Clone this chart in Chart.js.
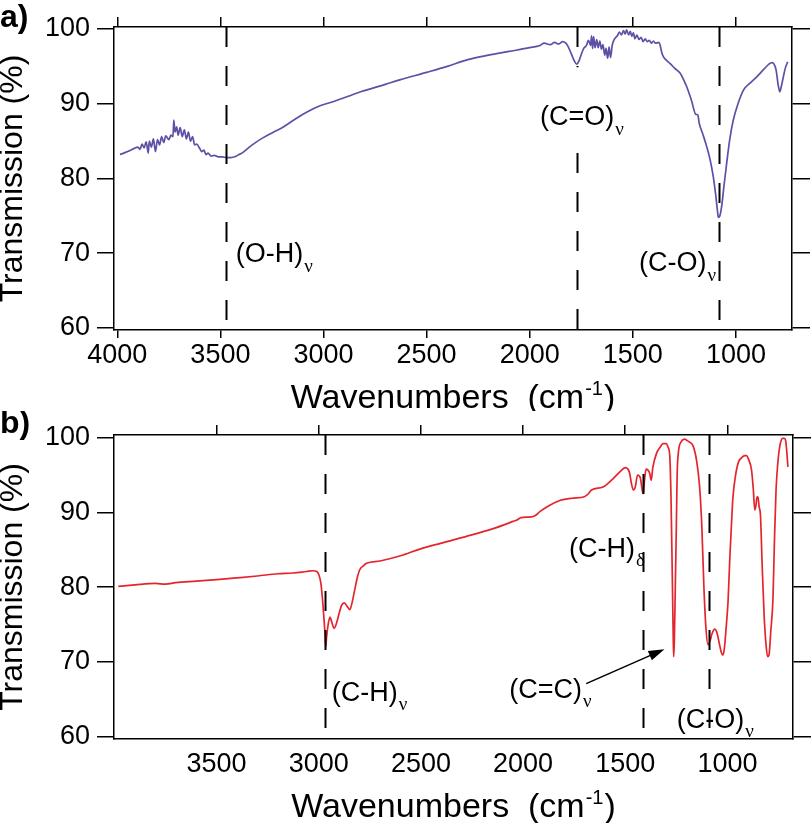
<!DOCTYPE html>
<html>
<head>
<meta charset="utf-8">
<title>FTIR spectra</title>
<script src="https://cdn.jsdelivr.net/npm/chart.js@4.4.1/dist/chart.umd.min.js"></script>
<style>
  html, body { margin: 0; padding: 0; background: #fff; }
  #wrap { position: relative; width: 812px; height: 823px; }
  .panel { position: absolute; left: 0; width: 812px; }
  #panelA { top: 0; height: 411px; }
  #panelB { top: 411px; height: 412px; }
</style>
</head>
<body>
<div id="wrap">
  <div class="panel" id="panelA"><canvas id="spectrumA" width="812" height="411"></canvas></div>
  <div class="panel" id="panelB"><canvas id="spectrumB" width="812" height="412"></canvas></div>
</div>
<script>
const FONT = '"Liberation Sans", Arial, Helvetica, sans-serif';

// panel a) (wavenumber, % transmission)
const waveA = [
  3987, 3950, 3920, 3900, 3890, 3880, 3870, 3860, 3850, 3845, 3835, 3825, 3815, 3805, 3795, 3785,
  3775, 3765, 3750, 3740, 3730, 3726, 3720, 3712, 3705, 3695, 3685, 3675, 3665, 3655, 3645, 3635,
  3625, 3615, 3600, 3590, 3580, 3570, 3560, 3545, 3530, 3510, 3490, 3470, 3450, 3430, 3410, 3390,
  3360, 3330, 3290, 3250, 3195, 3140, 3080, 3020, 2950, 2880, 2820, 2700, 2630, 2500, 2400, 2300,
  2200, 2100, 2000, 1950, 1930, 1900, 1880, 1860, 1840, 1825, 1815, 1800, 1785, 1772, 1760, 1750,
  1738, 1725, 1715, 1705, 1700, 1695, 1690, 1683, 1675, 1668, 1660, 1652, 1645, 1636, 1630, 1622,
  1615, 1608, 1600, 1590, 1575, 1565, 1555, 1545, 1537, 1530, 1520, 1512, 1505, 1497, 1490, 1480,
  1470, 1460, 1450, 1440, 1430, 1420, 1410, 1400, 1390, 1375, 1368, 1360, 1352, 1340, 1320, 1295,
  1271, 1250, 1239, 1215, 1195, 1185, 1178, 1160, 1142, 1125, 1110, 1098, 1090, 1085, 1078, 1069,
  1058, 1045, 1030, 1013, 990, 964, 930, 899, 865, 840, 825, 815, 805, 795, 787, 780, 770, 760, 749
];
const transA = [
  83.2, 83.6, 84.0, 84.2, 83.9, 84.6, 84.1, 84.9, 83.4, 85.0, 84.2, 85.3, 83.6, 85.2, 84.5, 85.6,
  84.8, 85.7, 85.2, 85.8, 85.6, 87.8, 86.2, 86.9, 85.8, 86.8, 85.6, 86.5, 85.3, 86.2, 85.0, 85.6,
  84.5, 84.6, 84.0, 83.6, 83.8, 83.2, 83.4, 83.0, 83.1, 82.9, 82.9, 82.8, 82.8, 82.9, 83.2, 83.5,
  84.2, 84.8, 85.5, 86.1, 86.9, 87.9, 88.9, 89.7, 90.3, 91.0, 91.6, 92.6, 93.2, 94.2, 95.0, 95.9,
  96.5, 97.0, 97.5, 97.8, 98.1, 97.9, 98.2, 98.0, 98.3, 98.1, 97.7, 96.8, 95.8, 95.3, 95.8, 96.6,
  97.4, 97.8, 98.5, 97.8, 99.1, 97.4, 99.0, 97.5, 98.6, 97.5, 98.4, 97.3, 97.9, 96.5, 97.4, 96.1,
  97.6, 96.2, 97.8, 98.6, 99.1, 99.6, 99.2, 99.8, 99.3, 99.9, 99.2, 99.7, 99.0, 99.5, 98.7, 99.2,
  98.6, 98.9, 98.3, 98.7, 98.3, 98.5, 98.1, 98.4, 98.1, 98.2, 97.9, 96.9, 96.3, 95.9, 95.4, 94.7,
  94.1, 93.0, 92.3, 90.4, 88.6, 88.5, 87.4, 85.9, 84.3, 82.5, 80.3, 77.8, 75.8, 74.8, 75.0, 76.3,
  79.0, 82.0, 85.2, 87.8, 90.0, 91.8, 92.8, 93.6, 94.6, 95.3, 95.5, 95.3, 94.5, 92.5, 91.6, 92.3, 93.6, 94.8, 95.6
];

// panel b)
const waveB = [
  3981, 3900, 3800, 3750, 3700, 3600, 3500, 3419, 3300, 3200, 3125, 3060, 3027, 3010, 3000, 2990,
  2982, 2975, 2970, 2966, 2961, 2954, 2945, 2937, 2925, 2915, 2900, 2888, 2875, 2860, 2848, 2838,
  2825, 2812, 2800, 2780, 2766, 2700, 2600, 2505, 2400, 2277, 2150, 2049, 2030, 2010, 1960, 1940,
  1918, 1880, 1820, 1760, 1700, 1680, 1665, 1609, 1560, 1520, 1500, 1487, 1478, 1470, 1460, 1450,
  1440, 1432, 1426, 1418, 1413, 1405, 1398, 1390, 1380, 1373, 1365, 1347, 1330, 1315, 1300, 1290,
  1282, 1276, 1270, 1265, 1263, 1260, 1255, 1250, 1246, 1240, 1225, 1210, 1201, 1185, 1168, 1150,
  1136, 1125, 1115, 1105, 1095, 1085, 1075, 1062, 1050, 1040, 1030, 1022, 1015, 1005, 997, 988,
  980, 973, 960, 945, 931, 915, 907, 895, 882, 873, 866, 860, 855, 850, 845, 838,
  830, 820, 810, 803, 796, 788, 777, 770, 762, 752, 744, 730, 722, 715, 709, 704
];
const transB = [
  80.1, 80.3, 80.5, 80.4, 80.6, 80.8, 81.0, 81.2, 81.5, 81.8, 81.9, 82.1, 82.2, 82.1, 81.7, 80.6,
  78.5, 76.0, 74.0, 72.0, 73.5, 75.0, 76.0, 75.4, 74.5, 75.0, 76.5, 77.6, 77.9, 77.4, 77.0, 77.8,
  79.5, 81.2, 82.3, 82.9, 83.2, 83.5, 84.2, 85.1, 85.9, 86.8, 87.8, 88.8, 89.0, 89.3, 89.4, 89.6,
  90.1, 90.8, 91.6, 91.9, 92.1, 92.5, 93.0, 93.4, 94.5, 95.6, 96.0, 95.8, 95.2, 93.9, 93.0, 93.5,
  95.0, 94.9, 94.6, 93.2, 92.5, 94.5, 95.8, 95.7, 95.2, 94.3, 96.0, 97.9, 98.7, 99.2, 99.2, 98.7,
  97.5, 92.0, 82.0, 73.0, 70.7, 72.5, 80.0, 88.0, 95.0, 98.0, 99.5, 99.8, 99.7, 99.4, 98.9, 96.8,
  93.4, 88.0, 80.0, 74.5, 72.3, 72.8, 73.8, 74.4, 73.8, 72.5, 71.3, 70.9, 71.8, 75.0, 78.0, 84.0,
  88.5, 92.0, 95.0, 96.8, 97.3, 97.6, 97.6, 97.0, 95.7, 93.0, 90.3, 91.0, 92.1, 92.0, 90.8, 89.5,
  83.0, 76.0, 72.0, 70.7, 71.0, 74.0, 78.5, 86.0, 93.0, 97.0, 98.8, 99.9, 99.9, 99.6, 98.0, 96.1
];

const xTicksA = [4000, 3500, 3000, 2500, 2000, 1500, 1000];
const xTicksB = [3500, 3000, 2500, 2000, 1500, 1000];
const yTicks = [60, 70, 80, 90, 100];

// band assignments (dashed markers), gaps are [low, high] transmission spans left open
const bandsA = [3475, 1772, 1082];
const bandGapsA = [null, [83.4, 94.9], null];
const bandsB = [2967, 1414, 1088];
const bandGapsB = [null, null, null];

// peak labels: text, subscript, wavenumber of left edge, transmission of text middle
const labelsA = [
  { text: '(O-H)', sub: 'ν', w: 3426, t: 69.8 },
  { text: '(C=O)', sub: 'ν', w: 1950, t: 88.1 },
  { text: '(C-O)', sub: 'ν', w: 1470, t: 68.6 }
];
const labelsB = [
  { text: '(C-H)', sub: 'ν', w: 2936, t: 65.8 },
  { text: '(C-H)', sub: 'δ', w: 1775, t: 85.1 },
  { text: '(C=C)', sub: 'ν', w: 2068, t: 66.2 },
  { text: '(C-O)', sub: 'ν', w: 1248, t: 62.2 }
];
const arrowB = { from: [1691, 67.1], to: [1308, 71.7] };

const spectrumMarks = {
  id: 'spectrumMarks',
  afterDatasetsDraw(chart, args, opts) {
    const { ctx, scales } = chart;
    const xs = scales.x;
    const ys = scales.y;
    ctx.save();

    // dashed band markers
    ctx.strokeStyle = '#000';
    ctx.lineWidth = 2;
    ctx.setLineDash([20, 19]);
    (opts.bands || []).forEach((w, i) => {
      const px = Math.round(xs.getPixelForValue(w)) + 0.5;
      const gap = opts.gaps && opts.gaps[i];
      const segs = gap ? [[ys.max, gap[1]], [gap[0], ys.min]] : [[ys.max, ys.min]];
      segs.forEach(([t0, t1]) => {
        ctx.beginPath();
        ctx.moveTo(px, ys.getPixelForValue(t0));
        ctx.lineTo(px, ys.getPixelForValue(t1));
        ctx.stroke();
      });
    });
    ctx.setLineDash([]);

    // assignment labels with greek subscripts
    ctx.fillStyle = '#000';
    ctx.textBaseline = 'middle';
    ctx.textAlign = 'left';
    (opts.labels || []).forEach((lab) => {
      const px = xs.getPixelForValue(lab.w);
      const py = ys.getPixelForValue(lab.t);
      ctx.font = '27px ' + FONT;
      ctx.fillText(lab.text, px, py);
      const tw = ctx.measureText(lab.text).width;
      ctx.font = '19px "Liberation Serif", "DejaVu Serif", serif';
      ctx.fillText(lab.sub, px + tw + 1, py + 12);
    });

    // arrow pointing at the C=C band
    if (opts.arrow) {
      const x0 = xs.getPixelForValue(opts.arrow.from[0]);
      const y0 = ys.getPixelForValue(opts.arrow.from[1]);
      const x1 = xs.getPixelForValue(opts.arrow.to[0]);
      const y1 = ys.getPixelForValue(opts.arrow.to[1]);
      const ang = Math.atan2(y1 - y0, x1 - x0);
      const head = 16;
      ctx.lineWidth = 1.6;
      ctx.beginPath();
      ctx.moveTo(x0, y0);
      ctx.lineTo(x1 - head * 0.8 * Math.cos(ang), y1 - head * 0.8 * Math.sin(ang));
      ctx.stroke();
      ctx.beginPath();
      ctx.moveTo(x1, y1);
      ctx.lineTo(x1 - head * Math.cos(ang) + 5 * Math.sin(ang), y1 - head * Math.sin(ang) - 5 * Math.cos(ang));
      ctx.lineTo(x1 - head * Math.cos(ang) - 5 * Math.sin(ang), y1 - head * Math.sin(ang) + 5 * Math.cos(ang));
      ctx.closePath();
      ctx.fill();
    }
    ctx.restore();
  },
  afterDraw(chart, args, opts) {
    const { ctx, chartArea } = chart;
    ctx.save();
    ctx.fillStyle = '#000';
    ctx.textBaseline = 'alphabetic';

    // panel letter
    ctx.textAlign = 'left';
    ctx.font = 'bold 32px ' + FONT;
    ctx.fillText(opts.letter, 0, opts.letterBaseline);

    // x axis title with superscript
    const main = 'Wavenumbers  (cm';
    const sup = '-1';
    ctx.font = '34px ' + FONT;
    const wMain = ctx.measureText(main).width;
    const wClose = ctx.measureText(')').width;
    ctx.font = '20px ' + FONT;
    const wSup = ctx.measureText(sup).width;
    const total = wMain + wSup + wClose + 2;
    let x = (chartArea.left + chartArea.right) / 2 - total / 2;
    ctx.font = '34px ' + FONT;
    ctx.fillText(main, x, opts.titleBaseline);
    x += wMain + 1;
    ctx.font = '20px ' + FONT;
    ctx.fillText(sup, x, opts.titleBaseline - 13);
    x += wSup + 1;
    ctx.font = '34px ' + FONT;
    ctx.fillText(')', x, opts.titleBaseline);
    ctx.restore();
  }
};

function buildScales(cfg) {
  const axisLine = { display: true, color: '#000', width: 1.5 };
  const tickFont = { family: FONT, size: 27 };
  const setTicks = (values) => (scale) => {
    scale.ticks = values.map((v) => ({ value: v }));
  };
  return {
    x: {
      type: 'linear', position: 'bottom', reverse: true, min: cfg.xMin, max: cfg.xMax,
      afterBuildTicks: setTicks(cfg.xTicks),
      afterFit: (s) => { s.height = cfg.height - cfg.area.bottom; },
      ticks: { font: tickFont, color: '#000', padding: 1, maxRotation: 0, autoSkip: false, callback: (v) => String(v) },
      grid: { drawOnChartArea: false, tickLength: 8, color: cfg.bottomTickColor, lineWidth: 1.5 },
      border: axisLine
    },
    x2: {
      type: 'linear', position: 'top', reverse: true, min: cfg.xMin, max: cfg.xMax,
      afterBuildTicks: setTicks(cfg.xTicks),
      afterFit: (s) => { s.height = cfg.area.top; },
      ticks: { display: false },
      grid: { drawOnChartArea: false, tickLength: 10, color: '#000', lineWidth: 1.5 },
      border: axisLine
    },
    y: {
      type: 'linear', position: 'left', min: cfg.yMin, max: cfg.yMax,
      afterBuildTicks: setTicks(yTicks),
      afterFit: (s) => { s.width = cfg.area.left; },
      ticks: { font: tickFont, color: '#000', padding: 7, callback: (v) => String(v) },
      grid: { drawOnChartArea: false, tickLength: 17, color: '#000', lineWidth: 1.5 },
      border: axisLine,
      title: { display: true, text: 'Transmission (%)', color: '#000', padding: 0, font: { family: FONT, size: 32, lineHeight: 0.85 } }
    },
    y2: {
      type: 'linear', position: 'right', min: cfg.yMin, max: cfg.yMax,
      afterBuildTicks: setTicks(yTicks),
      afterFit: (s) => { s.width = 812 - cfg.area.right; },
      ticks: { display: false },
      grid: { drawOnChartArea: false, tickLength: 18, color: '#000', lineWidth: 1.5 },
      border: axisLine
    }
  };
}

function initSpectrum(canvasId, cfg) {
  try {
    const el = document.getElementById(canvasId);
    if (!el) return;
    new Chart(el, {
      type: 'line',
      data: {
        datasets: [{
          data: cfg.waves.map((w, i) => ({ x: w, y: cfg.trans[i] })),
          borderColor: cfg.color,
          borderWidth: 1.7,
          pointRadius: 0,
          fill: false,
          cubicInterpolationMode: 'monotone'
        }]
      },
      options: {
        responsive: false,
        animation: false,
        devicePixelRatio: 1,
        layout: { padding: 0 },
        scales: buildScales(cfg),
        plugins: {
          legend: { display: false },
          tooltip: { enabled: false },
          spectrumMarks: {
            bands: cfg.bands, gaps: cfg.gaps, labels: cfg.labels, arrow: cfg.arrow,
            letter: cfg.letter, letterBaseline: cfg.letterBaseline, titleBaseline: cfg.titleBaseline
          }
        }
      },
      plugins: [spectrumMarks]
    });
  } catch (e) {
    console.warn('Spectrum chart init skipped:', e?.message || e);
  }
}

initSpectrum('spectrumA', {
  waves: waveA, trans: transA, color: '#5e50a4',
  xMin: 728, xMax: 4016, yMin: 59.73, yMax: 100.27, xTicks: xTicksA,
  height: 411, area: { left: 114, right: 792, top: 27, bottom: 330 },
  bottomTickColor: '#000',
  bands: bandsA, gaps: bandGapsA, labels: labelsA, arrow: null,
  letter: 'a)', letterBaseline: 27, titleBaseline: 408
});

initSpectrum('spectrumB', {
  waves: waveB, trans: transB, color: '#e3262d',
  xMin: 679, xMax: 4002, yMin: 59.69, yMax: 100.36, xTicks: xTicksB,
  height: 412, area: { left: 114, right: 793, top: 24, bottom: 328 },
  bottomTickColor: 'rgba(0,0,0,0)',
  bands: bandsB, gaps: bandGapsB, labels: labelsB, arrow: arrowB,
  letter: 'b)', letterBaseline: 22, titleBaseline: 406
});
</script>
</body>
</html>
